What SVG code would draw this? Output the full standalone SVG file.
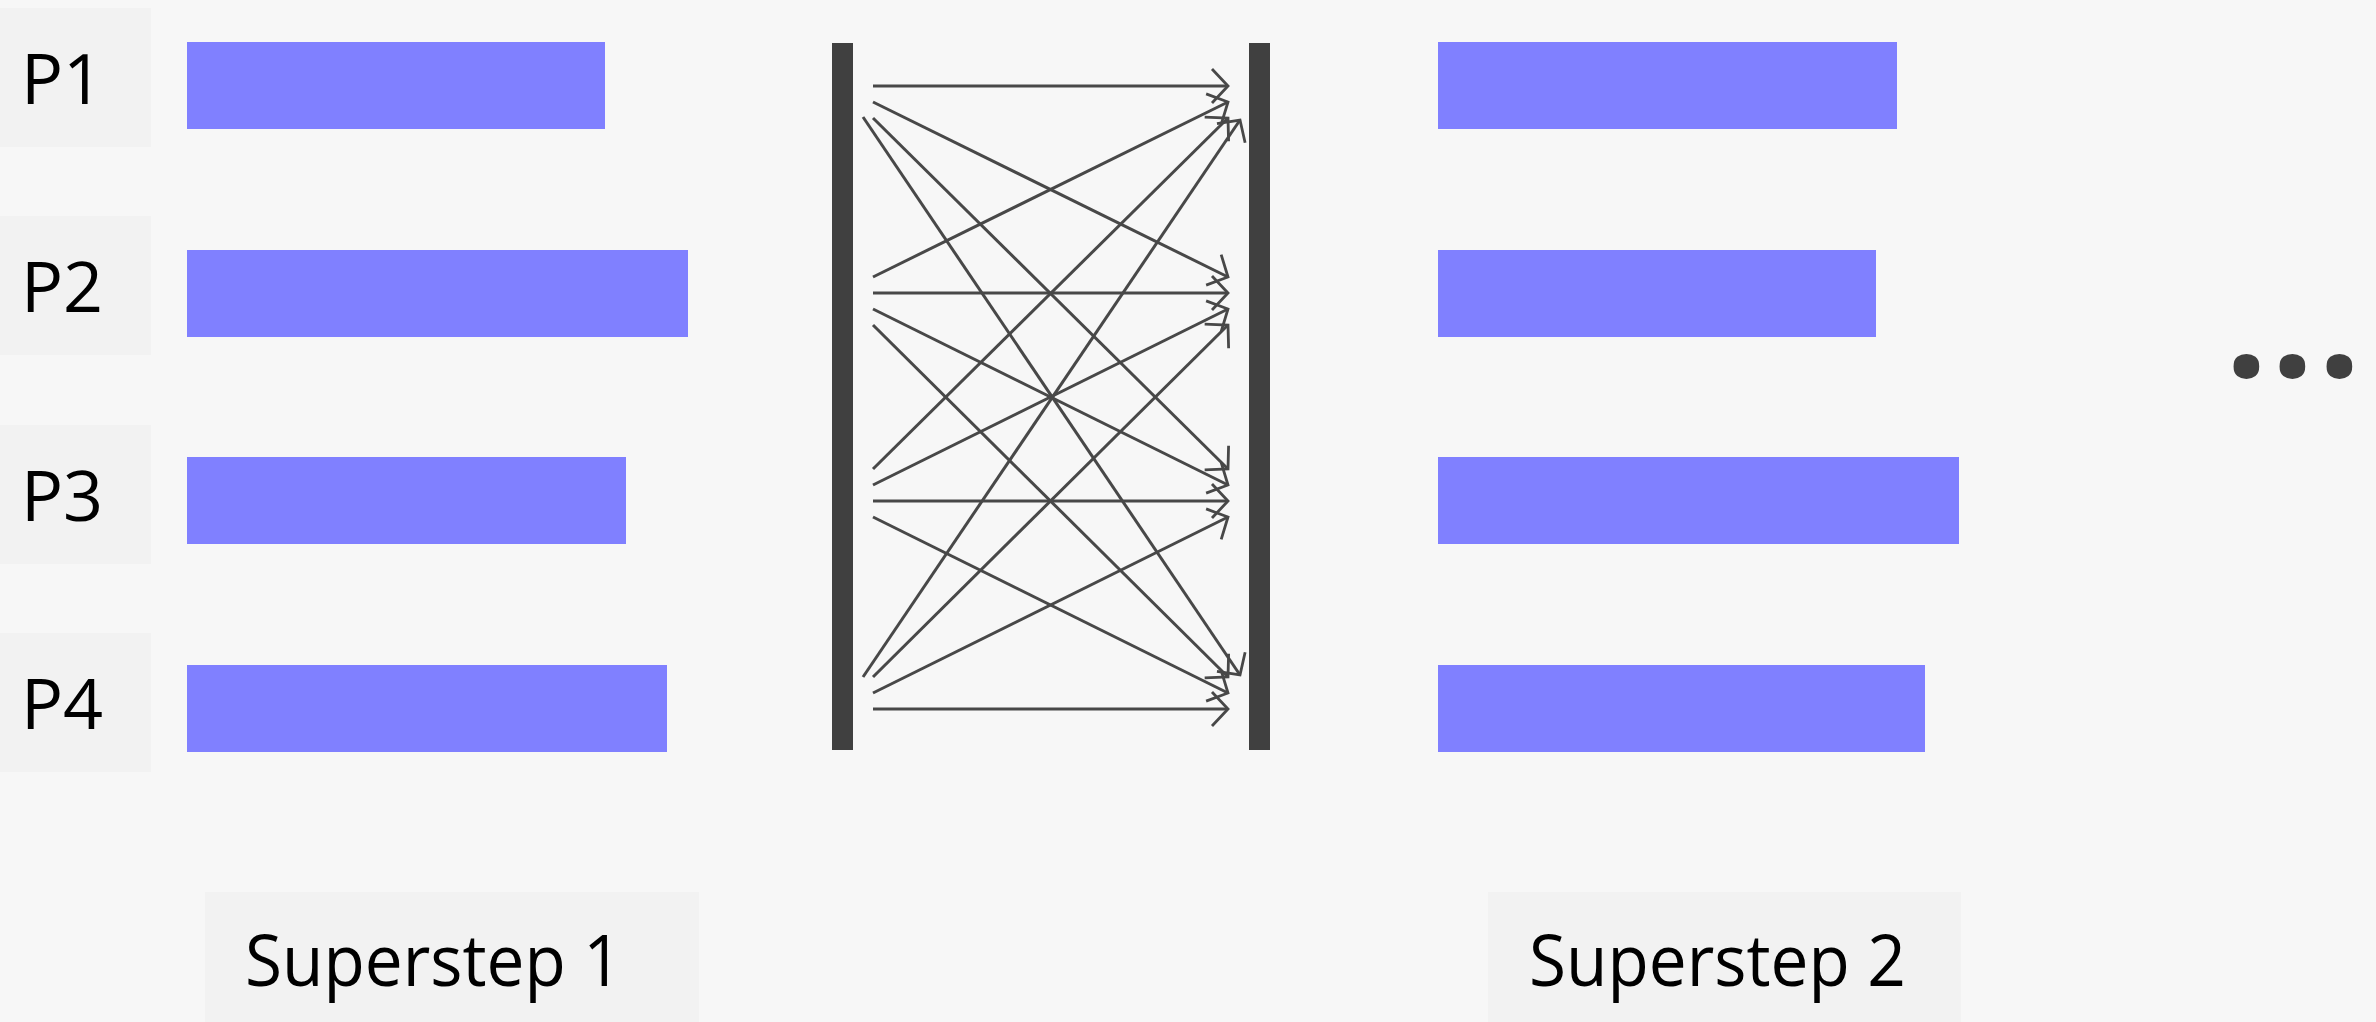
<svg xmlns="http://www.w3.org/2000/svg" width="2376" height="1022" viewBox="0 0 2376 1022">
<style>
.lbl{fill:#f2f2f2}
.bar{fill:#8080ff}
.bar-wall{fill:#404040}
.ptxt{font-family:"Open Sans","Noto Sans",sans-serif;font-size:70px;fill:#000}
.stxt{font-family:"Open Sans","Noto Sans",sans-serif;font-size:71px;fill:#000}
.dots{font-family:"Open Sans","Noto Sans",sans-serif;font-weight:bold;font-size:150px;fill:#404040}
.msg{stroke:#484848;stroke-width:3;fill:none;marker-end:url(#arr)}
</style>
<defs>
<marker id="arr" markerUnits="userSpaceOnUse" viewBox="-20 -20 24 40" refX="0" refY="0" markerWidth="24" markerHeight="40" orient="auto">
<path d="M-16,-17 L0,0 L-16,17" fill="none" stroke="#484848" stroke-width="2.8" stroke-linejoin="miter"/>
</marker>
</defs>
<rect width="2376" height="1022" fill="#f7f7f7"/>

<g id="P1">
<rect class="lbl" x="0" y="8" width="151" height="139"/>
<text class="ptxt" x="21" y="104">P1</text>
</g>
<g id="P2">
<rect class="lbl" x="0" y="216" width="151" height="139"/>
<text class="ptxt" x="21" y="312">P2</text>
</g>
<g id="P3">
<rect class="lbl" x="0" y="425" width="151" height="139"/>
<text class="ptxt" x="21" y="521">P3</text>
</g>
<g id="P4">
<rect class="lbl" x="0" y="633" width="151" height="139"/>
<text class="ptxt" x="21" y="729">P4</text>
</g>

<g id="superstep1-bars">
<rect class="bar" x="187" y="42" width="418" height="87"/>
<rect class="bar" x="187" y="250" width="501" height="87"/>
<rect class="bar" x="187" y="457" width="439" height="87"/>
<rect class="bar" x="187" y="665" width="480" height="87"/>
</g>

<g id="superstep2-bars">
<rect class="bar" x="1438" y="42" width="459" height="87"/>
<rect class="bar" x="1438" y="250" width="438" height="87"/>
<rect class="bar" x="1438" y="457" width="521" height="87"/>
<rect class="bar" x="1438" y="665" width="487" height="87"/>
</g>

<g id="barrier-left">
<rect class="bar-wall" x="832" y="43" width="21" height="707"/>
</g>
<g id="barrier-right">
<rect class="bar-wall" x="1249" y="43" width="21" height="707"/>
</g>

<g id="connectors">
<line class="msg" x1="873" y1="86" x2="1228" y2="86"/>
<line class="msg" x1="873" y1="102" x2="1228" y2="277"/>
<line class="msg" x1="873" y1="118" x2="1228" y2="469"/>
<line class="msg" x1="863" y1="117" x2="1240" y2="675"/>
<line class="msg" x1="873" y1="277" x2="1228" y2="102"/>
<line class="msg" x1="873" y1="293" x2="1228" y2="293"/>
<line class="msg" x1="873" y1="309" x2="1228" y2="485"/>
<line class="msg" x1="873" y1="325" x2="1228" y2="677"/>
<line class="msg" x1="873" y1="469" x2="1228" y2="118"/>
<line class="msg" x1="873" y1="485" x2="1228" y2="309"/>
<line class="msg" x1="873" y1="501" x2="1228" y2="501"/>
<line class="msg" x1="873" y1="517" x2="1228" y2="693"/>
<line class="msg" x1="863" y1="677" x2="1240" y2="120"/>
<line class="msg" x1="873" y1="677" x2="1228" y2="325"/>
<line class="msg" x1="873" y1="693" x2="1228" y2="517"/>
<line class="msg" x1="873" y1="709" x2="1228" y2="709"/>
</g>

<g id="label-superstep1">
<rect class="lbl" x="205" y="892" width="494" height="130"/>
<text class="stxt" x="245" y="986" textLength="377" lengthAdjust="spacingAndGlyphs">Superstep 1</text>
</g>
<g id="label-superstep2">
<rect class="lbl" x="1488" y="892" width="473" height="130"/>
<text class="stxt" x="1529" y="986" textLength="377" lengthAdjust="spacingAndGlyphs">Superstep 2</text>
</g>

<g id="ellipsis">
<text class="dots" x="2225 2271 2318" y="377">...</text>
</g>
</svg>
